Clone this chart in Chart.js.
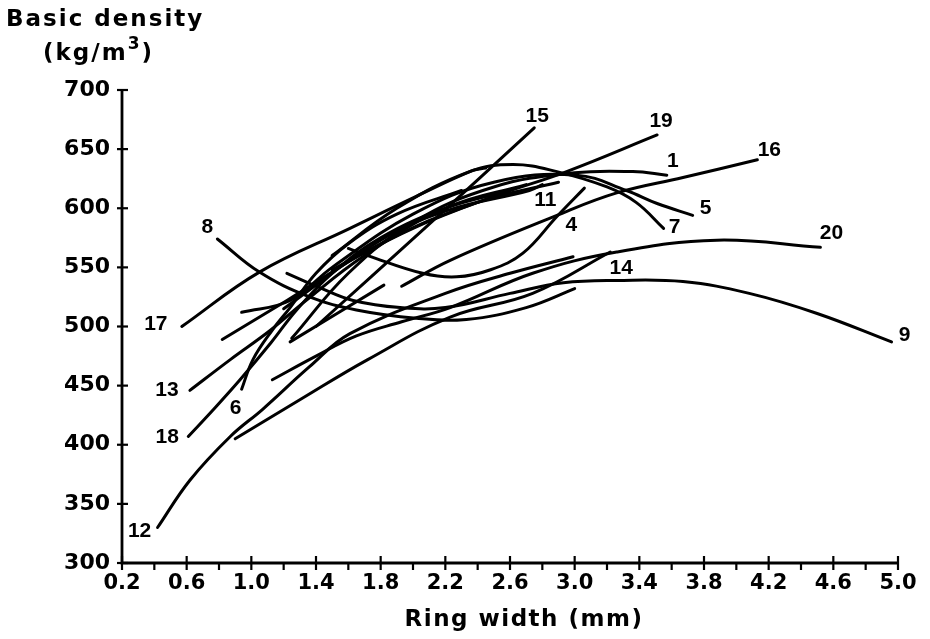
<!DOCTYPE html>
<html>
<head>
<meta charset="utf-8">
<script src="https://cdn.jsdelivr.net/npm/chart.js@4"></script>
<style>
html, body { margin: 0; padding: 0; background: #fff; }
#wrap { width: 930px; height: 639px; }
</style>
</head>
<body>
<div id="wrap"><canvas id="chart" width="930" height="639"></canvas></div>
<script>
// each curve: [ring width (mm), basic density (kg/m3)]
var c1  = [[1.25, 490], [1.6, 545], [2.0, 588], [2.5, 618], [3.0, 630], [3.36, 631], [3.57, 628]];
var c2  = [[0.82, 489], [1.22, 522], [1.8, 570], [2.4, 605], [2.9, 622]];
var c3  = [[1.24, 487], [1.82, 535]];
var c4  = [[1.6, 566], [1.72, 560], [2.06, 545], [2.27, 542], [2.48, 548], [2.68, 562], [2.89, 593], [3.06, 617]];
var c5  = [[0.94, 512], [1.24, 522], [1.5, 550], [2.0, 595], [2.5, 622], [3.01, 628], [3.32, 615], [3.51, 604], [3.73, 594]];
var c6  = [[0.94, 447], [1.01, 472], [1.13, 497], [1.24, 516], [1.4, 545], [1.6, 570], [1.9, 595], [2.3, 615]];
var c7  = [[1.5, 560], [1.9, 600], [2.35, 631], [2.62, 637], [2.89, 631], [3.2, 618], [3.38, 605], [3.55, 583]];
var c8  = [[0.79, 574], [1.05, 546], [1.36, 525], [1.65, 514], [2.02, 507], [2.33, 506], [2.7, 516], [3.0, 532]];
var c9  = [[1.22, 545], [1.42, 533], [1.63, 522], [1.92, 516], [2.2, 516], [2.6, 528], [2.93, 537], [3.26, 539], [3.67, 538], [4.08, 528], [4.5, 511], [4.96, 487]];
var c11 = [[1.2, 515], [1.8, 573], [2.21, 598], [2.72, 615], [2.8, 620]];
var c12 = [[0.42, 330], [0.62, 370], [0.87, 407], [1.07, 430], [1.36, 466], [1.61, 494], [2.2, 528], [2.6, 545], [2.99, 559]];
var c13 = [[0.62, 446], [0.87, 472], [1.12, 497], [1.32, 520], [1.7, 560], [2.2, 600], [2.7, 620]];
var c14 = [[0.9, 405], [1.3, 438], [1.72, 472], [2.23, 508], [2.74, 528], [3.22, 563]];
var c15 = [[1.4, 500], [2.08, 584], [2.75, 668]];
var c16 = [[1.93, 534], [2.23, 556], [2.89, 594], [3.26, 613], [3.67, 626], [4.13, 641]];
var c17 = [[0.57, 500], [1.05, 546], [1.61, 583], [2.02, 610], [2.37, 632], [2.45, 634]];
var c18 = [[0.61, 407], [0.76, 429], [0.93, 455], [1.12, 486], [1.28, 514], [1.5, 545], [1.8, 575], [2.2, 600], [2.6, 615]];
var c19 = [[1.5, 548], [2.0, 583], [2.5, 610], [2.95, 631], [3.51, 662]];
var c20 = [[1.13, 455], [1.4, 475], [1.65, 492], [1.93, 504], [2.23, 516], [2.74, 545], [3.26, 563], [3.88, 573], [4.52, 567]];

var curves = [c1, c2, c3, c4, c5, c6, c7, c8, c9, c11, c12, c13, c14, c15, c16, c17, c18, c19, c20];
var curveNames = ['1', '', '', '4', '5', '6', '7', '8', '9', '11', '12', '13', '14', '15', '16', '17', '18', '19', '20'];
var labelAtStart = [false, false, false, false, false, true, false, true, false, false, true, true, false, false, false, true, true, false, false];

// axis ranges
var xMin = 0.2, xMax = 5.0, xStep = 0.4;
var yMin = 300, yMax = 700, yStep = 50;

// pixel offsets of the number labels from the curve ends
var labelOffsets = [[6, -14], [0, 0], [0, 0], [-13, 37], [13, -7], [-6, 19], [11, -1], [-10, -12], [13, -7],
    [3, 16], [-18, 4], [-23, 0], [11, 16], [3, -12], [12, -10], [-26, -2], [-21, 1], [4, -14], [11, -14]];

var datasets = [];
for (var i = 0; i < curves.length; i++) {
    var pts = [];
    for (var j = 0; j < curves[i].length; j++) {
        pts.push({ x: curves[i][j][0], y: curves[i][j][1] });
    }
    datasets.push({
        label: curveNames[i] || ('curve ' + i),
        data: pts,
        borderColor: '#000',
        borderWidth: 3,
        pointRadius: 0,
        tension: 0.4,
        fill: false,
        borderCapStyle: 'round'
    });
}

var decorPlugin = {
    id: 'decor',
    afterDraw: function(chart) {
        var ctx = chart.ctx;
        var xs = chart.scales.x, ys = chart.scales.y;
        var area = chart.chartArea;
        ctx.save();
        ctx.strokeStyle = '#000';
        ctx.fillStyle = '#000';

        // axes
        ctx.lineWidth = 2.8;
        ctx.beginPath();
        ctx.moveTo(area.left, area.top);
        ctx.lineTo(area.left, area.bottom);
        ctx.lineTo(area.right, area.bottom);
        ctx.stroke();

        // y ticks cross the axis
        ctx.lineWidth = 2.2;
        for (var v = yMin; v <= yMax; v += yStep) {
            var py = ys.getPixelForValue(v);
            ctx.beginPath();
            ctx.moveTo(area.left - 5, py);
            ctx.lineTo(area.left + 6, py);
            ctx.stroke();
        }
        // x ticks, major cross, minor below
        for (var k = 0; k <= Math.round((xMax - xMin) / (xStep / 2)); k++) {
            var px = xs.getPixelForValue(xMin + k * xStep / 2);
            ctx.beginPath();
            if (k % 2 === 0) {
                ctx.moveTo(px, area.bottom - 7);
            } else {
                ctx.moveTo(px, area.bottom);
            }
            ctx.lineTo(px, area.bottom + 7);
            ctx.stroke();
        }

        // curve numbers
        ctx.font = 'bold 21px "Liberation Sans", Arial, sans-serif';
        ctx.textAlign = 'center';
        ctx.textBaseline = 'middle';
        for (var i = 0; i < curves.length; i++) {
            if (!curveNames[i]) continue;
            var pts = curves[i];
            var p = labelAtStart[i] ? pts[0] : pts[pts.length - 1];
            var lx = xs.getPixelForValue(p[0]) + labelOffsets[i][0];
            var ly = ys.getPixelForValue(p[1]) + labelOffsets[i][1];
            ctx.fillText(curveNames[i], lx, ly);
        }

        // axis titles
        ctx.textAlign = 'left';
        ctx.letterSpacing = '2px';
        ctx.font = 'bold 23px "DejaVu Sans", sans-serif';
        ctx.fillText('Basic density', 6, 20);
        var unitX = 43;
        ctx.fillText('(kg/m', unitX, 54);
        var w = ctx.measureText('(kg/m').width;
        ctx.font = 'bold 17px "DejaVu Sans", sans-serif';
        ctx.fillText('3', unitX + w, 45);
        var w3 = ctx.measureText('3').width;
        ctx.font = 'bold 23px "DejaVu Sans", sans-serif';
        ctx.fillText(')', unitX + w + w3, 54);

        ctx.textAlign = 'center';
        ctx.letterSpacing = '1.5px';
        ctx.font = 'bold 23px "DejaVu Sans", sans-serif';
        ctx.fillText('Ring width (mm)', 524, 620);
        ctx.restore();
    }
};

var chart = new Chart(document.getElementById('chart').getContext('2d'), {
    type: 'line',
    data: { datasets: datasets },
    options: {
        responsive: false,
        animation: false,
        layout: { autoPadding: false, padding: { left: 0, top: 90, right: 32, bottom: 0 } },
        plugins: { legend: { display: false }, tooltip: { enabled: false } },
        scales: {
            x: {
                type: 'linear',
                min: xMin,
                max: xMax,
                afterFit: function(s) { s.height = 76; },
                grid: { display: false, drawTicks: false },
                border: { display: false },
                ticks: {
                    stepSize: xStep,
                    padding: 8,
                    color: '#000',
                    font: { family: 'DejaVu Sans', weight: 'bold', size: 21 },
                    maxRotation: 0,
                    autoSkip: false,
                    callback: function(v) { return v.toFixed(1); }
                }
            },
            y: {
                min: yMin,
                max: yMax,
                afterFit: function(s) { s.width = 122; },
                grid: { display: false, drawTicks: false },
                border: { display: false },
                ticks: {
                    stepSize: yStep,
                    padding: 12,
                    color: '#000',
                    font: { family: 'DejaVu Sans', weight: 'bold', size: 22 }
                }
            }
        }
    },
    plugins: [decorPlugin]
});
</script>
</body>
</html>
